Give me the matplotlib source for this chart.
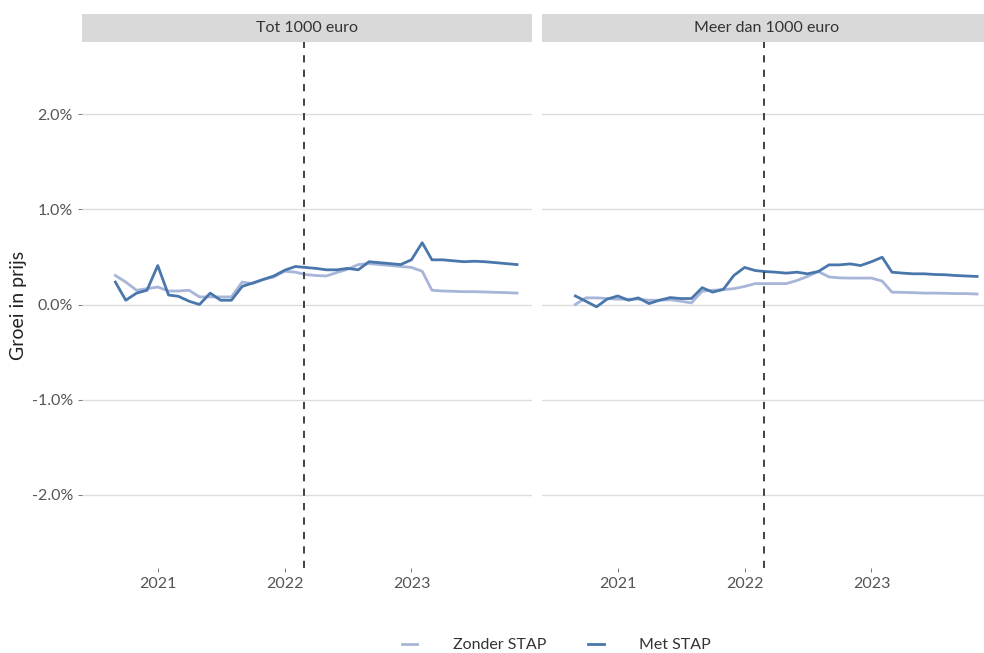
import matplotlib
matplotlib.use("Agg")
import matplotlib.pyplot as plt
import matplotlib.dates as mdates
import numpy as np
import pandas as pd

plt.rcParams['font.family'] = ['Lato', 'DejaVu Sans']

# monthly observations, Sep 2020 - Nov 2023
months = pd.date_range("2020-09-01", "2023-11-01", freq="MS")

panels = ["Tot 1000 euro", "Meer dan 1000 euro"]
series_names = ["Zonder STAP", "Met STAP"]

# groei in prijs, in %
tot_zonder = [0.305, 0.236, 0.15, 0.167, 0.184, 0.142, 0.142, 0.15, 0.08, 0.08,
              0.08, 0.08, 0.236, 0.22, 0.264, 0.29, 0.35, 0.34, 0.316, 0.305,
              0.30, 0.337, 0.37, 0.42, 0.43, 0.42, 0.41, 0.40, 0.39, 0.35,
              0.15, 0.142, 0.139, 0.135, 0.135, 0.132, 0.128, 0.125, 0.12]
tot_met = [0.236, 0.045, 0.12, 0.15, 0.41, 0.10, 0.087, 0.035, 0.0, 0.12,
           0.045, 0.045, 0.19, 0.226, 0.264, 0.30, 0.36, 0.40, 0.39, 0.38,
           0.365, 0.365, 0.38, 0.365, 0.45, 0.44, 0.43, 0.42, 0.47, 0.65,
           0.47, 0.47, 0.46, 0.45, 0.455, 0.45, 0.44, 0.43, 0.42]
meer_zonder = [0.0, 0.07, 0.07, 0.063, 0.056, 0.056, 0.056, 0.045, 0.045, 0.05,
               0.035, 0.017, 0.14, 0.15, 0.156, 0.167, 0.19, 0.22, 0.22, 0.22,
               0.22, 0.253, 0.295, 0.347, 0.29, 0.28, 0.278, 0.278, 0.278, 0.246,
               0.13, 0.128, 0.125, 0.12, 0.12, 0.118, 0.115, 0.115, 0.11]
meer_met = [0.09, 0.035, -0.024, 0.056, 0.09, 0.045, 0.07, 0.01, 0.045, 0.073,
            0.063, 0.063, 0.177, 0.13, 0.16, 0.305, 0.39, 0.357, 0.347, 0.34,
            0.33, 0.34, 0.323, 0.347, 0.417, 0.417, 0.427, 0.41, 0.45, 0.497,
            0.34, 0.33, 0.323, 0.323, 0.316, 0.313, 0.305, 0.30, 0.295]

data = [(tot_zonder, tot_met), (meer_zonder, meer_met)]
colors = ["#A7B5D9", "#4A77AB"]
stap_start = pd.Timestamp("2022-02-25")

W, H = 984, 653
fig = plt.figure(figsize=(W / 100, H / 100), dpi=100)

# panel pixel boxes (right panel is cut off by the image edge)
lefts = [82, 542]
pw = 450
top, bottom = 42, 568
strip_h = 28

handles = []
for i, (name, (zonder, met)) in enumerate(zip(panels, data)):
    ax = fig.add_axes([lefts[i] / W, 1 - bottom / H, pw / W, (bottom - top) / H])
    for vals, c, lab in zip((zonder, met), colors, series_names):
        ln, = ax.plot(months, vals, color=c, lw=2.0, label=lab, zorder=3)
        if i == 0:
            handles.append(ln)
    ax.axvline(stap_start, color="#333333", ls=(0, (4, 4)), lw=1.3, zorder=4)

    ax.set_ylim(-2.77, 2.76)
    ax.set_xlim(pd.Timestamp("2020-05-28"), pd.Timestamp("2023-12-14"))
    ax.set_yticks([-2, -1, 0, 1, 2])
    ax.grid(axis="y", color="#DDDDDD", lw=1.0)
    ax.set_axisbelow(True)
    ax.xaxis.set_major_locator(mdates.YearLocator())
    ax.xaxis.set_major_formatter(mdates.DateFormatter("%Y"))
    for s in ax.spines.values():
        s.set_visible(False)
    ax.tick_params(colors="#666666", labelcolor="#555555", labelsize=11.5,
                   length=3, width=0.6)
    if i == 0:
        ax.set_yticklabels([f"{v:.1f}%" for v in [-2, -1, 0, 1, 2]])
        ax.set_ylabel("Groei in prijs", fontsize=14, color="#222222", labelpad=3)
    else:
        ax.tick_params(axis="y", left=False, labelleft=False)

    # facet strip
    sax = fig.add_axes([lefts[i] / W, 1 - top / H, pw / W, strip_h / H])
    sax.set_facecolor("#D9D9D9")
    sax.set_xticks([])
    sax.set_yticks([])
    for s in sax.spines.values():
        s.set_visible(False)
    sax.text(0.5, 0.5, name, ha="center", va="center", fontsize=11.5,
             color="#333333", transform=sax.transAxes)

fig.legend(handles=handles, labels=series_names, loc="center",
           bbox_to_anchor=(0.565, 1 - 645 / H), ncol=2, frameon=False,
           fontsize=11.5, handlelength=1.0, handletextpad=2.2, columnspacing=2.6,
           labelcolor="#333333")

fig.savefig("out.png", dpi=100)
